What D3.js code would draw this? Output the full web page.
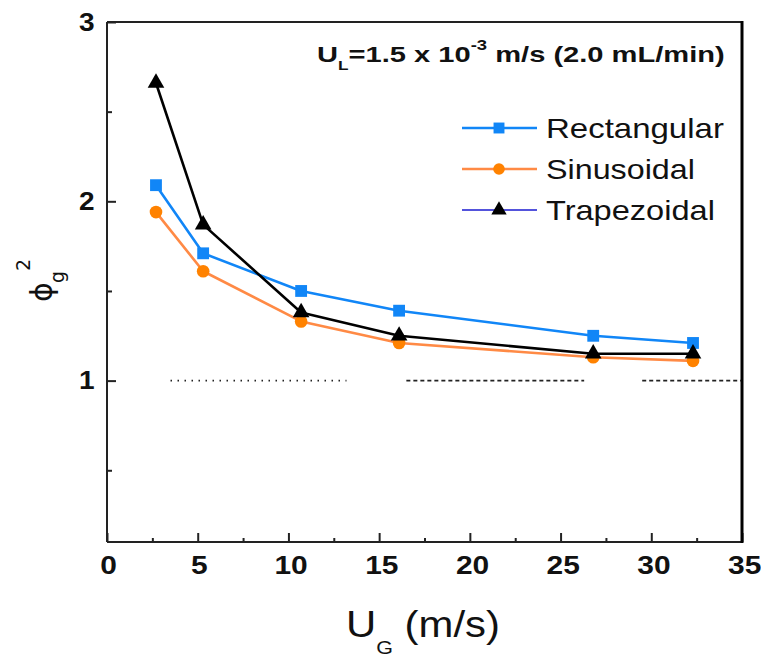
<!DOCTYPE html>
<html><head><meta charset="utf-8">
<script src="https://cdn.jsdelivr.net/npm/d3@7"></script>
<style>body{margin:0;background:#fff}svg{display:block}</style>
</head><body>
<svg id="c" width="761" height="657"></svg>
<script>
// ---- data ----
const ug = [2.7, 5.3, 10.7, 16.1, 26.8, 32.3];
const rectangular = [2.09, 1.71, 1.50, 1.39, 1.25, 1.21];
const sinusoidal  = [1.94, 1.61, 1.33, 1.21, 1.13, 1.11];
const trapezoidal = [2.66, 1.87, 1.38, 1.25, 1.15, 1.15];
const seriesNames = ["Rectangular", "Sinusoidal", "Trapezoidal"];
const xTicks = [0, 5, 10, 15, 20, 25, 30, 35];
const xMinor = [2.5, 7.5, 12.5, 17.5, 22.5, 27.5, 32.5];
const yTicks = [1, 2, 3];
const yMinor = [0.5, 1.5, 2.5];
const refLevel = 1;
const refSegments = [[3.5, 13.2], [16.5, 26.3], [29.5, 35]];

// ---- layout ----
const svg = d3.select("#c");
const L = 107, T = 22, R = 742, B = 542;
const x = d3.scaleLinear().domain([0, 35]).range([L, R]);
const y = d3.scaleLinear().domain([0.1, 3]).range([B, T]);
const FONT = "'Liberation Sans', Arial, sans-serif";

function stretch(sel, sx) {
  sel.each(function () {
    const t = d3.select(this);
    const bb = this.getBBox();
    const a = t.attr("text-anchor") || "start";
    const ax = a === "middle" ? bb.x + bb.width / 2 : a === "end" ? bb.x + bb.width : bb.x;
    t.attr("transform", `translate(${ax},0) scale(${sx},1) translate(${-ax},0)`);
  });
}
function fit(sel, w) {
  const bb = sel.node().getBBox();
  stretch(sel, w / bb.width);
}

// reference dotted line at 1
const refStyles = ["1.5,5.5", "4,3", "4,3"];
svg.append("g").selectAll("line").data(refSegments).join("line")
  .attr("x1", d => x(d[0])).attr("x2", d => x(d[1]))
  .attr("y1", y(refLevel)).attr("y2", y(refLevel))
  .attr("stroke", "#222").attr("stroke-width", 1.6)
  .attr("stroke-dasharray", (d, i) => refStyles[i]);

// axes
const gx = svg.append("g").attr("transform", `translate(0,${B})`)
  .call(d3.axisBottom(x).tickValues(xTicks).tickSize(-9).tickPadding(14).tickFormat(d3.format("d")));
const gxm = svg.append("g").attr("transform", `translate(0,${B})`)
  .call(d3.axisBottom(x).tickValues(xMinor).tickSize(-4).tickFormat(""));
const gy = svg.append("g").attr("transform", `translate(${L},0)`)
  .call(d3.axisLeft(y).tickValues(yTicks).tickSize(-9).tickPadding(14).tickFormat(d3.format("d")));
const gym = svg.append("g").attr("transform", `translate(${L},0)`)
  .call(d3.axisLeft(y).tickValues(yMinor).tickSize(-5).tickFormat(""));
[gx, gxm, gy, gym].forEach(g => {
  g.select(".domain").remove();
  g.selectAll(".tick line").attr("stroke", "#222").attr("stroke-width", 2);
});
gx.selectAll(".tick text").attr("font-family", FONT).attr("font-size", 26).attr("font-weight", "bold").attr("fill", "#111");
gy.selectAll(".tick text").attr("font-family", FONT).attr("font-size", 25).attr("font-weight", "bold").attr("fill", "#111");
stretch(gx.selectAll(".tick text"), 1.15);
stretch(gy.selectAll(".tick text"), 1.12);

// frame
const frame = svg.append("g").attr("stroke", "#222").attr("fill", "none");
frame.append("line").attr("x1", L).attr("x2", R).attr("y1", B).attr("y2", B).attr("stroke-width", 2);
frame.append("line").attr("x1", L).attr("x2", L).attr("y1", T).attr("y2", B).attr("stroke-width", 2);
frame.append("line").attr("x1", L).attr("x2", R).attr("y1", T).attr("y2", T).attr("stroke-width", 2);
frame.append("line").attr("x1", R).attr("x2", R).attr("y1", T - 1).attr("y2", B + 1).attr("stroke-width", 3).attr("stroke", "#000");

// series
const series = [
  { name: seriesNames[0], vals: rectangular, line: "#1186f7", fill: "#1186f7", sym: d3.symbolSquare, size: 140, legendLine: "#1186f7", lw: 2.6 },
  { name: seriesNames[1], vals: sinusoidal, line: "#ff8a45", fill: "#ff8200", sym: d3.symbolCircle, size: 125, legendLine: "#ff8a45", lw: 2.6 },
  { name: seriesNames[2], vals: trapezoidal, line: "#000", fill: "#000", sym: d3.symbolTriangle, size: 120, legendLine: "#1a1ad0", lw: 2.6 }
];
const lineGen = d3.line().x(d => x(d[0])).y(d => y(d[1]));
series.forEach(s => {
  const pts = ug.map((u, i) => [u, s.vals[i]]);
  svg.append("path").datum(pts).attr("d", lineGen)
    .attr("fill", "none").attr("stroke", s.line).attr("stroke-width", s.lw).attr("stroke-linejoin", "round");
  svg.append("g").selectAll("path").data(pts).join("path")
    .attr("transform", d => `translate(${x(d[0])},${y(d[1])})`)
    .attr("d", d3.symbol(s.sym, s.size)).attr("fill", s.fill);
});

// legend
const legY = [128, 169, 210];
const legW = [178, 149, 169];
series.forEach((s, i) => {
  const g = svg.append("g");
  g.append("line").attr("x1", 462).attr("x2", 537).attr("y1", legY[i]).attr("y2", legY[i])
    .attr("stroke", s.legendLine).attr("stroke-width", i === 2 ? 1.4 : 2.6);
  g.append("path").attr("transform", `translate(499,${legY[i]})`)
    .attr("d", d3.symbol(s.sym, s.size * 0.85)).attr("fill", s.fill);
  const t = g.append("text").attr("x", 546).attr("y", legY[i] + 10)
    .attr("font-family", FONT).attr("font-size", 27).attr("fill", "#111").text(s.name);
  fit(t, legW[i]);
});

// annotation
const ann = svg.append("text").attr("x", 317).attr("y", 62)
  .attr("font-family", FONT).attr("font-weight", "bold").attr("font-size", 22).attr("fill", "#111");
ann.append("tspan").text("U");
ann.append("tspan").attr("font-size", 13).attr("dy", 8).text("L");
ann.append("tspan").attr("dy", -8).text("=1.5 x 10");
ann.append("tspan").attr("font-size", 14).attr("dy", -12).text("-3");
ann.append("tspan").attr("dy", 12).text(" m/s (2.0 mL/min)");
fit(ann, 408);

// x title
const xt = svg.append("text").attr("x", 346).attr("y", 637)
  .attr("font-family", FONT).attr("font-size", 37).attr("fill", "#111");
xt.append("tspan").text("U");
xt.append("tspan").attr("font-size", 19).attr("dy", 17).text("G");
xt.append("tspan").attr("dy", -17).text(" (m/s)");
fit(xt, 154);

// y title
const yt = svg.append("text").attr("transform", "translate(52,302) rotate(-90)")
  .attr("font-family", "'DejaVu Sans', sans-serif").attr("fill", "#111");
yt.append("tspan").attr("x", 0).attr("font-size", 30).text("ϕ");
yt.append("tspan").attr("x", 19).attr("font-size", 19).attr("dy", 12).text("g");
yt.append("tspan").attr("x", 31).attr("font-size", 19).attr("dy", -34).text("2");
</script>
</body></html>
